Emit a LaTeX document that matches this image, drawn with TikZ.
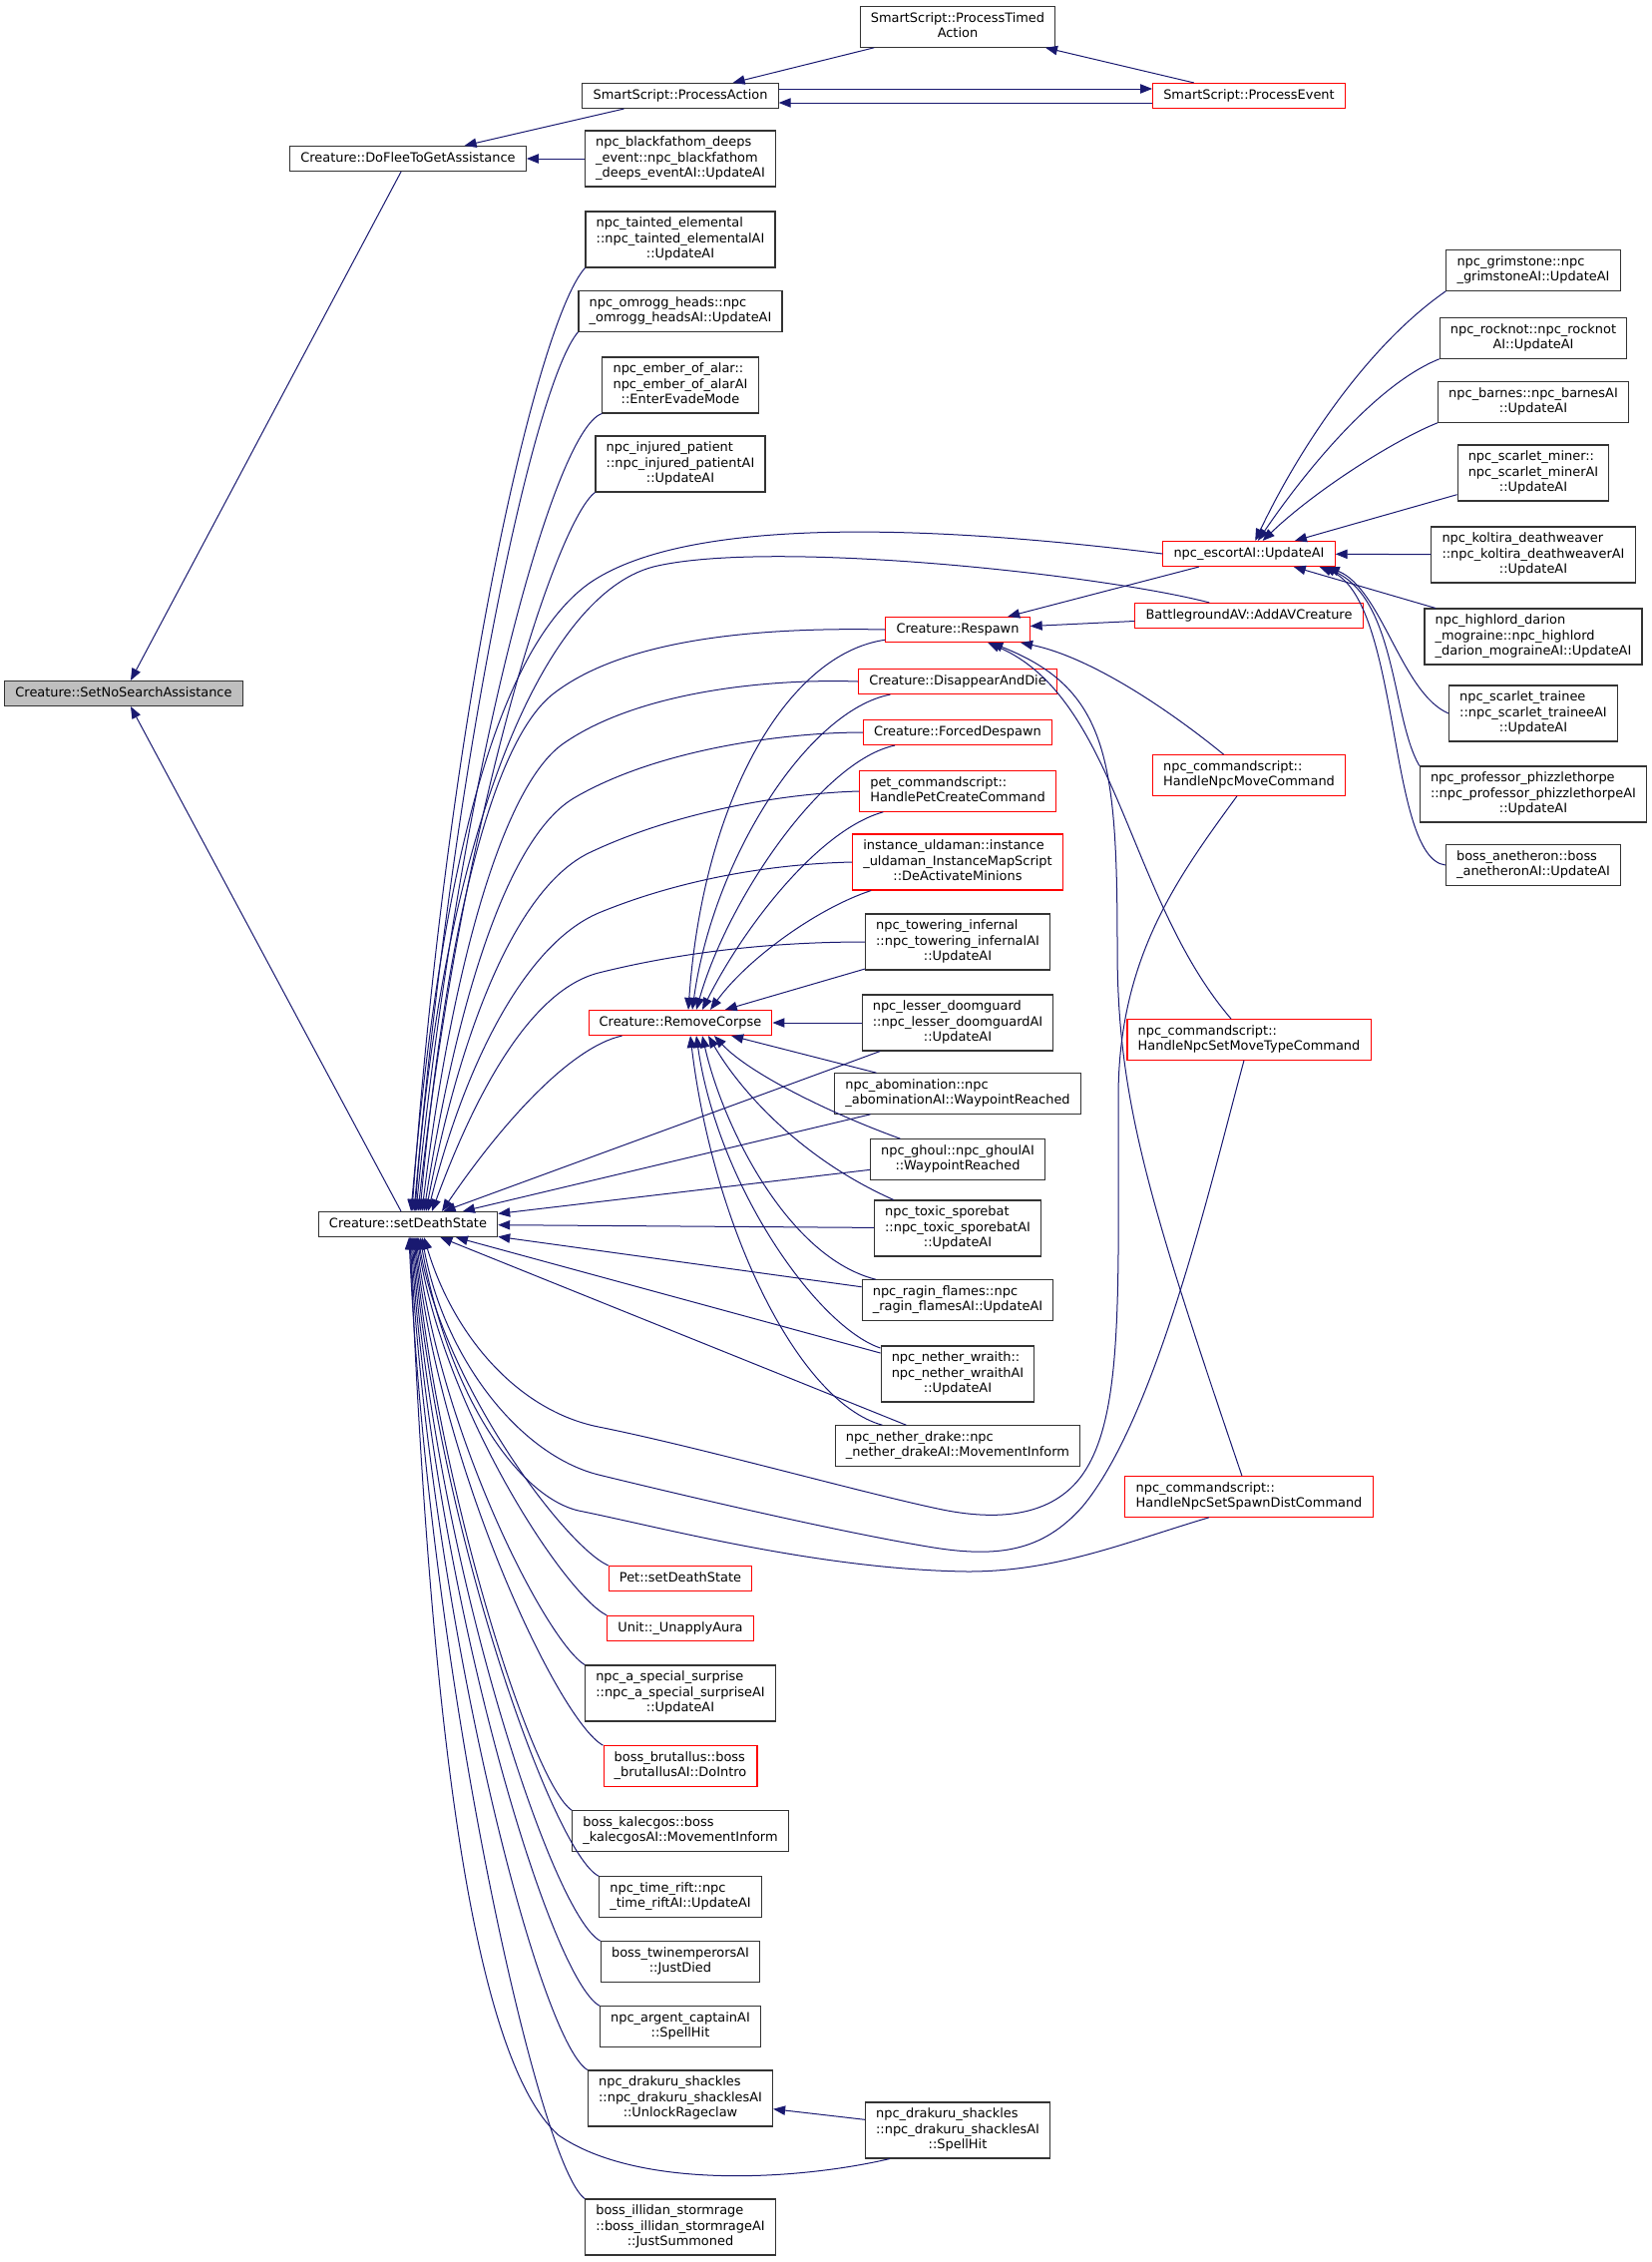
\documentclass[tikz,border=0pt]{standalone}
\usepackage{fontspec}
\newfontfamily\dxfont{DejaVu Sans}
\usetikzlibrary{arrows.meta,calc}
\definecolor{dxblue}{HTML}{191970}
\definecolor{dxred}{HTML}{FF0000}
\tikzset{
    fnode/.style={draw=black!80, fill=white, line width=0.8pt, inner xsep=8pt, inner ysep=3.6pt,
                  font=\dxfont\fontsize{9.7}{11.6}\selectfont, execute at begin node=\strut},
    rnode/.style={fnode, draw=dxred},
    call/.style={draw=dxblue, line width=0.75pt, -{Triangle[length=9pt,width=7pt]}}
}
% lines left aligned, last line centred (doxygen label)
\newcommand{\dl}[2]{\begin{tabular}{@{}l@{}}#1\\\multicolumn{1}{@{}c@{}}{#2}\end{tabular}}

\begin{document}
\begin{tikzpicture}[x=0.75pt, y=-0.75pt]
    \useasboundingbox (0,0) rectangle (1656,2267);
    % Nodes
    \node[fnode, fill=black!25] (sns) at (124,695) {Creature::SetNoSearchAssistance};
    \node[fnode] (doflee) at (409,159) {Creature::DoFleeToGetAssistance};
    \node[fnode] (setd) at (409,1227) {Creature::setDeathState};

    \node[fnode] (pa) at (682,96) {SmartScript::ProcessAction};
    \node[fnode] (blackf) at (682,159) {\dl{npc\_blackfathom\_deeps\\\_event::npc\_blackfathom}{\_deeps\_eventAI::UpdateAI}};
    \node[fnode] (taint) at (682,240) {\dl{npc\_tainted\_elemental\\::npc\_tainted\_elementalAI}{::UpdateAI}};
    \node[fnode] (omrogg) at (682,312) {\dl{npc\_omrogg\_heads::npc}{\_omrogg\_headsAI::UpdateAI}};
    \node[fnode] (ember) at (682,386) {\dl{npc\_ember\_of\_alar::\\npc\_ember\_of\_alarAI}{::EnterEvadeMode}};
    \node[fnode] (injured) at (682,465) {\dl{npc\_injured\_patient\\::npc\_injured\_patientAI}{::UpdateAI}};
    \node[rnode] (rc) at (682,1025) {Creature::RemoveCorpse};
    \node[rnode] (pet2) at (682,1582) {Pet::setDeathState};
    \node[rnode] (unap) at (682,1632) {Unit::\_UnapplyAura};
    \node[fnode] (surp) at (682,1697) {\dl{npc\_a\_special\_surprise\\::npc\_a\_special\_surpriseAI}{::UpdateAI}};
    \node[rnode] (brut) at (682,1770) {\dl{boss\_brutallus::boss}{\_brutallusAI::DoIntro}};
    \node[fnode] (kalec) at (682,1835) {\dl{boss\_kalecgos::boss}{\_kalecgosAI::MovementInform}};
    \node[fnode] (trift) at (682,1901) {\dl{npc\_time\_rift::npc}{\_time\_riftAI::UpdateAI}};
    \node[fnode] (twin) at (682,1966) {\dl{boss\_twinemperorsAI}{::JustDied}};
    \node[fnode] (argent) at (682,2031) {\dl{npc\_argent\_captainAI}{::SpellHit}};
    \node[fnode] (unlock) at (682,2103) {\dl{npc\_drakuru\_shackles\\::npc\_drakuru\_shacklesAI}{::UnlockRageclaw}};
    \node[fnode] (illidan) at (682,2232) {\dl{boss\_illidan\_stormrage\\::boss\_illidan\_stormrageAI}{::JustSummoned}};

    \node[fnode] (pta) at (960,27) {\dl{SmartScript::ProcessTimed}{Action}};
    \node[rnode] (resp) at (960,631) {Creature::Respawn};
    \node[rnode] (dad) at (960,683) {Creature::DisappearAndDie};
    \node[rnode] (fd) at (960,734) {Creature::ForcedDespawn};
    \node[rnode] (petcmd) at (960,793) {\dl{pet\_commandscript::}{HandlePetCreateCommand}};
    \node[rnode] (uld) at (960,864) {\dl{instance\_uldaman::instance\\\_uldaman\_InstanceMapScript}{::DeActivateMinions}};
    \node[fnode] (tower) at (960,944) {\dl{npc\_towering\_infernal\\::npc\_towering\_infernalAI}{::UpdateAI}};
    \node[fnode] (lesser) at (960,1025) {\dl{npc\_lesser\_doomguard\\::npc\_lesser\_doomguardAI}{::UpdateAI}};
    \node[fnode] (abom) at (960,1096) {\dl{npc\_abomination::npc}{\_abominationAI::WaypointReached}};
    \node[fnode] (ghoul) at (960,1162) {\dl{npc\_ghoul::npc\_ghoulAI}{::WaypointReached}};
    \node[fnode] (toxic) at (960,1231) {\dl{npc\_toxic\_sporebat\\::npc\_toxic\_sporebatAI}{::UpdateAI}};
    \node[fnode] (ragin) at (960,1303) {\dl{npc\_ragin\_flames::npc}{\_ragin\_flamesAI::UpdateAI}};
    \node[fnode] (wraith) at (960,1377) {\dl{npc\_nether\_wraith::\\npc\_nether\_wraithAI}{::UpdateAI}};
    \node[fnode] (drake) at (960,1449) {\dl{npc\_nether\_drake::npc}{\_nether\_drakeAI::MovementInform}};
    \node[fnode] (spell) at (960,2135) {\dl{npc\_drakuru\_shackles\\::npc\_drakuru\_shacklesAI}{::SpellHit}};

    \node[rnode] (pe) at (1252,96) {SmartScript::ProcessEvent};
    \node[rnode] (esc) at (1252,555) {npc\_escortAI::UpdateAI};
    \node[rnode] (bgav) at (1252,617) {BattlegroundAV::AddAVCreature};
    \node[rnode] (movecmd) at (1252,777) {\dl{npc\_commandscript::}{HandleNpcMoveCommand}};
    \node[rnode] (setmove) at (1252,1042) {\dl{npc\_commandscript::}{HandleNpcSetMoveTypeCommand}};
    \node[rnode] (spawn) at (1252,1500) {\dl{npc\_commandscript::}{HandleNpcSetSpawnDistCommand}};

    \node[fnode] (grim) at (1537,271) {\dl{npc\_grimstone::npc}{\_grimstoneAI::UpdateAI}};
    \node[fnode] (rock) at (1537,339) {\dl{npc\_rocknot::npc\_rocknot}{AI::UpdateAI}};
    \node[fnode] (barnes) at (1537,403) {\dl{npc\_barnes::npc\_barnesAI}{::UpdateAI}};
    \node[fnode] (miner) at (1537,474) {\dl{npc\_scarlet\_miner::\\npc\_scarlet\_minerAI}{::UpdateAI}};
    \node[fnode] (kolt) at (1537,556) {\dl{npc\_koltira\_deathweaver\\::npc\_koltira\_deathweaverAI}{::UpdateAI}};
    \node[fnode] (high) at (1537,638) {\dl{npc\_highlord\_darion\\\_mograine::npc\_highlord}{\_darion\_mograineAI::UpdateAI}};
    \node[fnode] (trainee) at (1537,715) {\dl{npc\_scarlet\_trainee\\::npc\_scarlet\_traineeAI}{::UpdateAI}};
    \node[fnode] (phizz) at (1537,796) {\dl{npc\_professor\_phizzlethorpe\\::npc\_professor\_phizzlethorpeAI}{::UpdateAI}};
    \node[fnode] (anet) at (1537,867) {\dl{boss\_anetheron::boss}{\_anetheronAI::UpdateAI}};

    % edges, top part
    \draw[call] (doflee) -- (sns);
    \draw[call] (setd) -- (sns);
    \draw[call] (pa) -- (doflee);
    \draw[call] (blackf) -- (doflee);
    \draw[call] (pta) -- (pa);
    \draw[call] ($(pa.east)+(0,-7)$) -- ($(pe.west)+(0,-7)$);
    \draw[call] ($(pe.west)+(0,7)$) -- ($(pa.east)+(0,7)$);
    \draw[call] (pe) -- (pta);

    % callers of npc_escortAI::UpdateAI
    \draw[call] (grim.south west) .. controls (1370,347) and (1302,450) .. (esc);
    \draw[call] (rock.south west) .. controls (1380,385) and (1310,470) .. (esc);
    \draw[call] (barnes.south west) .. controls (1400,440) and (1320,490) .. (esc);
    \draw[call] (miner) -- (esc);
    \draw[call] (kolt) -- (esc);
    \draw[call] (high) -- (esc);
    \draw[call] (trainee.west) .. controls (1405,695) and (1385,590) .. ($(esc.south east)+(-8,0)$);
    \draw[call] (phizz.north west) .. controls (1395,720) and (1400,600) .. ($(esc.south east)+(-12,0)$);
    \draw[call] (anet.west) .. controls (1390,860) and (1405,600) .. ($(esc.south east)+(-16,0)$);

    % callers of Creature::Respawn
    \draw[call] (esc) -- (resp);
    \draw[call] (bgav) -- (resp);
    \draw[call] (movecmd) .. controls (1185,722) and (1100,660) .. (resp);
    \draw[call] (setmove) .. controls (1130,900) and (1120,700) .. (resp);
    \draw[call] ($(spawn.north)+(-7,0)$) .. controls (1150,1200) and (1120,1100) .. (1120,950)
        .. controls (1120,760) and (1110,690) .. (resp);

    % callers of Creature::RemoveCorpse
    \draw[call] (resp) .. controls (790,655) and (705,800) .. ($(rc.north)+(8,0)$);
    \draw[call] (dad) .. controls (810,712) and (715,860) .. ($(rc.north)+(12,0)$);
    \draw[call] (fd) .. controls (825,762) and (730,900) .. ($(rc.north)+(16,0)$);
    \draw[call] (petcmd) .. controls (820,832) and (745,930) .. ($(rc.north)+(22,0)$);
    \draw[call] (uld) .. controls (820,910) and (750,960) .. ($(rc.north)+(30,0)$);
    \draw[call] (tower) -- (rc);
    \draw[call] (lesser) -- (rc);
    \draw[call] (abom) -- (rc);
    \draw[call] (ghoul) .. controls (830,1115) and (750,1075) .. ($(rc.south)+(34,0)$);
    \draw[call] (toxic) .. controls (800,1160) and (740,1090) .. ($(rc.south)+(28,0)$);
    \draw[call] (ragin) .. controls (790,1260) and (725,1130) .. ($(rc.south)+(22,0)$);
    \draw[call] (wraith) .. controls (820,1330) and (720,1190) .. ($(rc.south)+(16,0)$);
    \draw[call] (drake) .. controls (800,1405) and (715,1230) .. ($(rc.south)+(10,0)$);

    % callers of Creature::setDeathState, from above
    \draw[call] (taint.south west) .. controls (540,320) and (450,700) .. ($(setd.north)+(4,0)$);
    \draw[call] (omrogg.south west) .. controls (535,385) and (455,760) .. ($(setd.north)+(6,0)$);
    \draw[call] (ember.south west) .. controls (555,430) and (460,780) .. ($(setd.north)+(8,0)$);
    \draw[call] (injured.south west) .. controls (560,520) and (465,800) .. ($(setd.north)+(10,0)$);
    \draw[call] (esc.west) .. controls (900,522) and (680,522) .. (590,585)
        .. controls (480,665) and (435,950) .. ($(setd.north)+(3,0)$);
    \draw[call] ($(bgav.north west)+(75,0)$) .. controls (1100,575) and (770,540) .. (655,568)
        .. controls (540,598) and (442,850) .. ($(setd.north)+(7,0)$);
    \draw[call] (resp.west) .. controls (740,628) and (620,645) .. (555,695)
        .. controls (490,745) and (445,950) .. ($(setd.north)+(12,0)$);
    \draw[call] (dad.west) .. controls (770,680) and (640,693) .. (565,745)
        .. controls (500,790) and (450,990) .. ($(setd.north)+(14,0)$);
    \draw[call] (fd.west) .. controls (790,734) and (660,750) .. (575,800)
        .. controls (505,842) and (455,1020) .. ($(setd.north)+(16,0)$);
    \draw[call] (petcmd.west) .. controls (790,795) and (680,812) .. (590,855)
        .. controls (515,892) and (460,1040) .. ($(setd.north)+(18,0)$);
    \draw[call] (uld.west) .. controls (770,866) and (680,882) .. (600,915)
        .. controls (525,947) and (465,1070) .. ($(setd.north)+(20,0)$);
    \draw[call] (tower.west) .. controls (770,944) and (680,955) .. (600,975)
        .. controls (530,993) and (475,1100) .. ($(setd.north)+(24,0)$);
    \draw[call] (rc) .. controls (570,1050) and (500,1130) .. ($(setd.north)+(34,0)$);
    \draw[call] (lesser) -- (setd);
    \draw[call] (abom) -- (setd);
    \draw[call] (ghoul) -- (setd);
    \draw[call] (toxic) -- (setd);
    \draw[call] (ragin) -- (setd);
    \draw[call] (wraith) -- (setd);
    \draw[call] (drake) -- (setd);

    % long ones through the bottom
    \draw[call] ($(movecmd.south)+(-12,0)$) .. controls (1180,880) and (1121,960) .. (1121,1100)
        .. controls (1121,1300) and (1126,1420) .. (1085,1478)
        .. controls (1055,1520) and (1000,1525) .. (940,1512)
        .. controls (860,1495) and (700,1450) .. (600,1430)
        .. controls (520,1414) and (455,1340) .. ($(setd.south)+(16,0)$);
    \draw[call] ($(setmove.south)+(-5,0)$) .. controls (1215,1180) and (1160,1420) .. (1085,1510)
        .. controls (1045,1555) and (1000,1562) .. (930,1550)
        .. controls (840,1535) and (690,1500) .. (600,1478)
        .. controls (520,1458) and (445,1360) .. ($(setd.south)+(14,0)$);
    \draw[call] ($(spawn.south)+(-40,0)$) .. controls (1130,1545) and (1060,1575) .. (970,1575)
        .. controls (820,1573) and (660,1530) .. (580,1514)
        .. controls (520,1500) and (450,1400) .. ($(setd.south)+(12,0)$);

    % callers of Creature::setDeathState, from below
    \draw[call] (pet2.north west) .. controls (567,1550) and (445,1388) .. ($(setd.south)+(10,0)$);
    \draw[call] (unap.north west) .. controls (565,1597) and (445,1412) .. ($(setd.south)+(9,0)$);
    \draw[call] (surp.north west) .. controls (548,1645) and (442,1440) .. ($(setd.south)+(8,0)$);
    \draw[call] (brut.north west) .. controls (560,1725) and (440,1470) .. ($(setd.south)+(7,0)$);
    \draw[call] (kalec.north west) .. controls (535,1790) and (440,1500) .. ($(setd.south)+(6,0)$);
    \draw[call] (trift.north west) .. controls (555,1858) and (438,1530) .. ($(setd.south)+(5,0)$);
    \draw[call] (twin.north west) .. controls (553,1920) and (436,1560) .. ($(setd.south)+(4,0)$);
    \draw[call] (argent.north west) .. controls (550,1982) and (434,1590) .. ($(setd.south)+(3,0)$);
    \draw[call] (unlock.north west) .. controls (540,2045) and (432,1620) .. ($(setd.south)+(2,0)$);
    \draw[call] (illidan.north west) .. controls (540,2170) and (430,1680) .. ($(setd.south)+(1,0)$);
    \draw[call] ($(spell.south west)+(25,0)$) .. controls (800,2185) and (640,2195) .. (560,2140)
        .. controls (470,2060) and (430,1700) .. ($(setd.south)+(2,0)$);
    \draw[call] (spell) -- (unlock);
\end{tikzpicture}
\end{document}
